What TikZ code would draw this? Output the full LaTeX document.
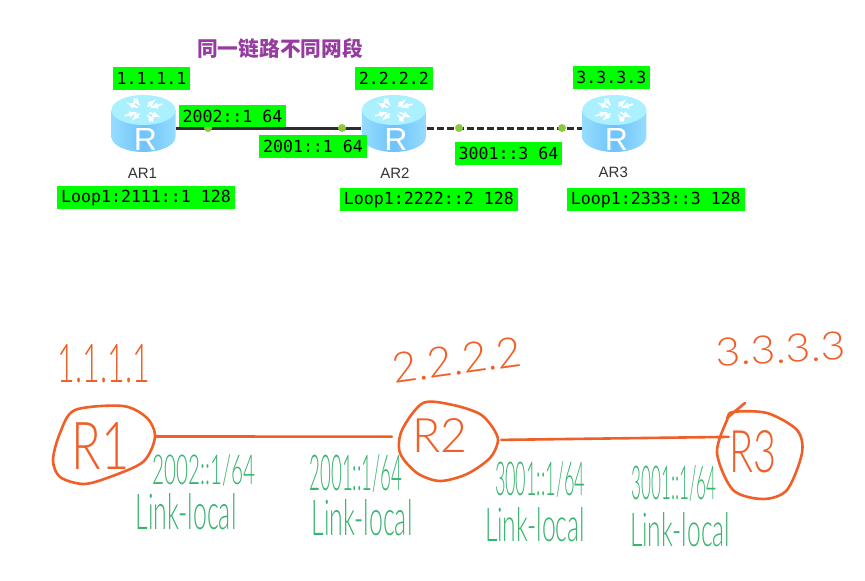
\documentclass[tikz,border=0pt]{standalone}
\usepackage{fontspec}
\usepackage{xcolor}
\usepackage{tikz}
\usetikzlibrary{positioning,calc,shapes.geometric}
\setmainfont{Liberation Sans}
\newfontfamily\cjkfont{Noto Sans CJK SC}
\newfontfamily\tagfont{DejaVu Sans Mono}
\newfontfamily\handfont{Lato Light}
\definecolor{cvtag}{RGB}{0,255,0}
\definecolor{cvdot}{RGB}{140,200,65}
\definecolor{cvlink}{RGB}{45,45,45}
\definecolor{cvtitle}{RGB}{150,60,160}
\definecolor{cvhand}{RGB}{240,95,40}
\definecolor{cvpen}{RGB}{55,180,110}
\definecolor{cvside}{RGB}{150,220,255}
\definecolor{cvmid}{RGB}{110,195,250}
\definecolor{cvtop}{RGB}{170,240,255}
% router drawing round a named node
\newcommand{\routericon}[1]{%
  \begin{scope}[shift={(#1)}]
    \shade[left color=cvside,right color=cvside,middle color=cvmid]
      (-32,-18) -- (-32,9) arc[start angle=180,end angle=0,x radius=32,y radius=15] -- (32,-18) -- cycle;
    \fill[cvtop] (0,-18) ellipse[x radius=32,y radius=15];
    \foreach \ang in {35,125,215,305}{
      \draw[white,line width=1.8pt,-latex,yscale=0.62] (0,-29)++(\ang:7) -- ++(\ang:14);
      \draw[white,line width=1.8pt,latex-,yscale=0.62] (0,-29)++(\ang+28:7) -- ++(\ang+28:14);
    }
    \node[white,font=\fontsize{32}{32}\selectfont,inner sep=0pt] (#1r) at (2,11) {R};
  \end{scope}
}
\newcommand{\penbox}[3]{\resizebox{#1pt}{#2pt}{#3}}
\begin{document}
\begin{tikzpicture}[
  x=1pt,y=-1pt,
  router/.style={minimum width=65pt,minimum height=50pt,inner sep=0pt},
  devname/.style={inner sep=0pt,text=black!80,font=\fontsize{15}{15}\selectfont},
  tag/.style={fill=cvtag,inner xsep=3.8pt,inner ysep=0pt,minimum height=23pt,font=\tagfont\fontsize{16.6}{18}\selectfont},
  dot/.style={circle,fill=cvdot,inner sep=0pt,minimum size=8pt},
  link/.style={line width=3pt,cvlink},
  hand/.style={inner sep=0pt,text=cvhand,font=\handfont\fontsize{40}{40}\selectfont},
  pen/.style={inner sep=0pt,text=cvpen,font=\handfont\fontsize{40}{40}\selectfont},
  handline/.style={draw=cvhand,line width=2.6pt,line cap=round,line join=round}
]
\useasboundingbox[fill=white] (0,0) rectangle (865,581);
\node[inner sep=0pt,text=cvtitle,font=\cjkfont\bfseries\fontsize{20.7}{22}\selectfont] (title) at (280,49) {同一链路不同网段};
% routers
\node[router] (ar1) at (143.5,128) {};
\node[router,right=185pt of ar1] (ar2) {};
\node[router,right=155pt of ar2] (ar3) {};
\routericon{ar1}
\routericon{ar2}
\routericon{ar3}
\node[devname,below=15pt of ar1,xshift=-1pt] (name1) {AR1};
\node[devname,below=15pt of ar2,xshift=1pt] (name2) {AR2};
\node[devname,below=14pt of ar3,xshift=-1pt] (name3) {AR3};
\draw[link] (ar1) -- (ar2);
\draw[link,dash pattern=on 7pt off 3pt] (ar2) -- (ar3);
\node[dot] (d1) at (208,128) {};
\node[dot] (d2) at (342,128) {};
\node[dot] (d3) at (459,128) {};
\node[dot] (d4) at (562,128) {};
% green labels
\node[tag,above=13pt of ar1,xshift=8pt] (id1) {1.1.1.1};
\node[tag,above=13pt of ar2] (id2) {2.2.2.2};
\node[tag,above=14pt of ar3,xshift=-3pt] (id3) {3.3.3.3};
\node[tag,minimum height=22pt] (if1) at (232.5,116) {2002::1 64};
\node[tag] (if2) at (313,146) {2001::1 64};
\node[tag] (if3) at (508.5,153.5) {3001::3 64};
\node[tag,below=33pt of ar1,xshift=2.5pt] (lo1) {Loop1:2111::1 128};
\node[tag,below=35pt of ar2,xshift=35pt] (lo2) {Loop1:2222::2 128};
\node[tag,below=35pt of ar3,xshift=41.5pt] (lo3) {Loop1:2333::3 128};
% hand written part
\node[hand] (h1) at (104,364) {\penbox{92}{38}{1.1.1.1}};
\node[hand,rotate=8] (h2) at (457,360) {\penbox{130}{30}{2.2.2.2}};
\node[hand,rotate=3] (h3) at (781,349) {\penbox{130}{28}{3.3.3.3}};
\node[hand,minimum width=108pt,minimum height=60pt] (r1) at (101,446) {\penbox{58}{47}{R1}};
\node[hand,minimum width=96pt,minimum height=60pt] (r2) at (440,435) {\penbox{55}{34}{R2}};
\node[hand,minimum width=48pt,minimum height=46pt] (r3) at (753,452) {\penbox{47}{42}{R3}};
\draw[handline] plot[smooth cycle] coordinates {(75,410) (123,406) (147,418) (155,437) (143,462) (107,478) (83,484) (60,477) (53,460) (60,433)};
\draw[handline] plot[smooth cycle] coordinates {(423,403) (402,430) (400,453) (417,473) (440,481) (467,474) (490,458) (498,441) (493,428) (480,414) (453,405)};
\draw[handline] plot[smooth cycle] coordinates {(717,453) (727,420) (733,412) (767,413) (797,430) (802,453) (787,490) (763,499) (733,490)};
\coordinate (tick) at (745,403);
\draw[handline] (tick) -- (727,418);
\draw[handline] (r1.10) -- (r2.182);
\draw[handline,shorten <=13pt] (r2.-6) -- (r3.148);
\node[pen] (a1) at (204,470) {\penbox{103}{30}{2002::1/64}};
\node[pen] (b1) at (186,512) {\penbox{101}{36}{Link-local}};
\node[pen] (a2) at (356,474) {\penbox{93}{36}{2001::1/64}};
\node[pen] (b2) at (362,518) {\penbox{101}{36}{Link-local}};
\node[pen] (a3) at (540,479) {\penbox{90}{34}{3001::1/64}};
\node[pen] (b3) at (535,525) {\penbox{100}{34}{Link-local}};
\node[pen] (a4) at (674,483) {\penbox{85}{34}{3001::1/64}};
\node[pen] (b4) at (680,530) {\penbox{100}{34}{Link-local}};
\end{tikzpicture}
\end{document}
